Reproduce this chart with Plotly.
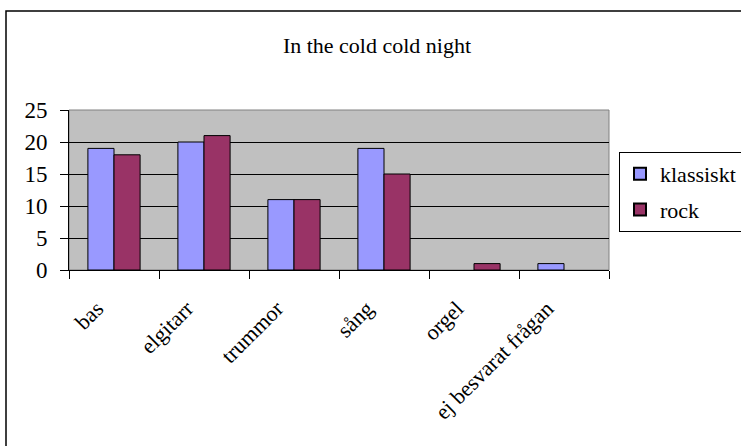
import plotly.graph_objects as go

categories = ["bas", "elgitarr", "trummor", "sång", "orgel", "ej besvarat frågan"]
klassiskt = [19, 20, 11, 19, 0, 1]
rock = [18, 21, 11, 15, 1, 0]
y_ticks = [0, 5, 10, 15, 20, 25]

FONT = "Liberation Serif"


def outline_widths(values):
    # no outline on empty bars, so a zero count leaves no mark
    return [0 if v == 0 else 1 for v in values]


fig = go.Figure()
fig.add_trace(go.Bar(name="klassiskt", x=categories, y=klassiskt, legendgroup="k",
                     marker=dict(color="#9999FF",
                                 line=dict(color="black", width=outline_widths(klassiskt)))))
fig.add_trace(go.Bar(name="rock", x=categories, y=rock, legendgroup="r",
                     marker=dict(color="#993366",
                                 line=dict(color="black", width=outline_widths(rock)))))

# margins: plot area spans 540x160 px
L, R, T, B = 69, 132, 110, 176
W, H = 741 - L - R, 446 - T - B


def px_x(p):
    return (p - L) / W


def px_y(p):
    return (446 - B - p) / H


fig.update_layout(
    width=741, height=446,
    margin=dict(l=L, r=R, t=T, b=B, autoexpand=False),
    paper_bgcolor="white", plot_bgcolor="#C0C0C0",
    barmode="group", bargap=0.42, bargroupgap=0,
    font=dict(family=FONT, color="black", size=22),
    title=dict(text="In the cold cold night", x=377 / 741, xref="container",
               xanchor="center", y=1 - 45 / 446, yanchor="middle",
               font=dict(size=22, family=FONT)),
    showlegend=True,
    legend=dict(x=px_x(619), y=px_y(152), xanchor="left", yanchor="top",
                bgcolor="white", bordercolor="black", borderwidth=1,
                font=dict(size=22, family=FONT), tracegroupgap=4,
                itemwidth=30, itemsizing="constant"),
    xaxis=dict(showgrid=False, showline=True, linecolor="black", linewidth=1,
               ticks="outside", tickson="boundaries", ticklen=8, tickcolor="black",
               tickangle=-45, tickfont=dict(size=22, family=FONT),
               ticklabelstandoff=16, ticklabelshift=-17, fixedrange=True),
    yaxis=dict(range=[0, 25], tickvals=y_ticks, showgrid=True, gridcolor="black",
               gridwidth=1, showline=True, linecolor="black", linewidth=1,
               ticks="outside", ticklen=8, tickcolor="black",
               tickfont=dict(size=23, family=FONT), ticklabelstandoff=8,
               zeroline=False, fixedrange=True),
    shapes=[
        # plot area frame
        dict(type="rect", xref="paper", yref="paper", x0=0, x1=1, y0=0, y1=1,
             line=dict(color="#808080", width=1), layer="below"),
        # outer chart border
        dict(type="rect", xref="paper", yref="paper",
             x0=px_x(6), x1=px_x(746), y0=px_y(11), y1=px_y(452),
             line=dict(color="black", width=1.5)),
    ],
)

fig.write_html("out.html")
